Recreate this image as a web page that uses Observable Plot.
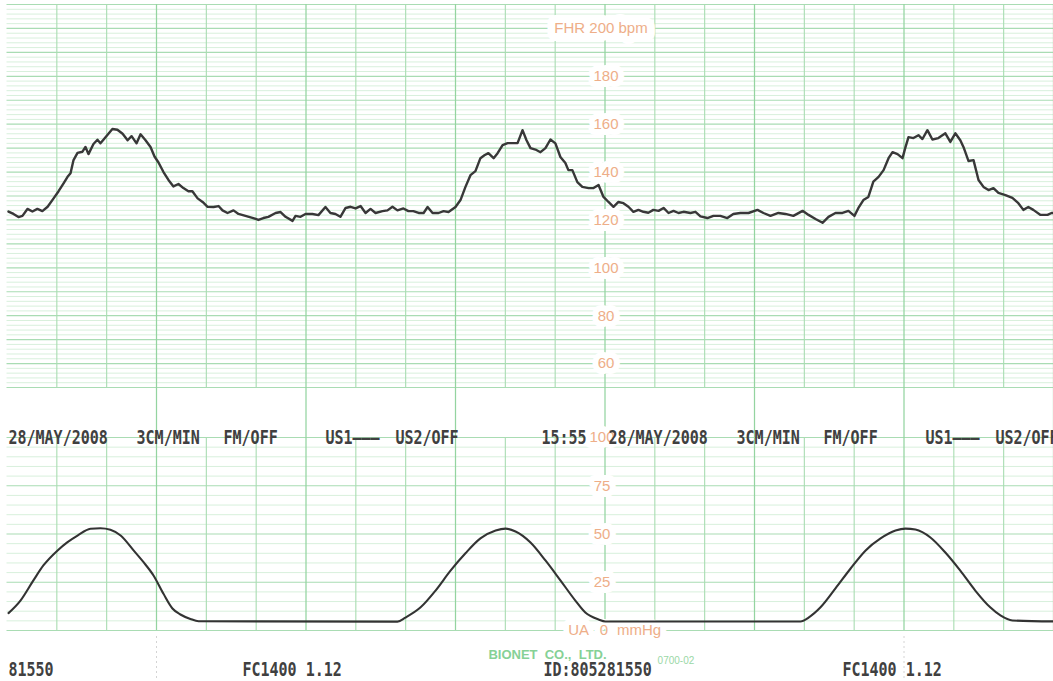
<!DOCTYPE html>
<html>
<head>
<meta charset="utf-8">
<script src="https://cdn.jsdelivr.net/npm/d3@7"></script>
<script src="https://cdn.jsdelivr.net/npm/@observablehq/plot@0.6"></script>
<style>
  html, body { margin: 0; padding: 0; background: #fff; }
  #chart { position: relative; width: 1053px; height: 681px; overflow: hidden; background: #fff; }
  #chart svg { position: absolute; left: 0; }
  #chart text { white-space: pre; }
</style>
</head>
<body>
<div id="chart"></div>
<script>
// ---- FHR trace (time in seconds, beats per minute) ----
const fhrTime = [
  0.6,2.6,4.6,6.2,8.2,10.2,12.2,14.2,16.3,18.7,
  20.7,22.7,24.3,25.5,26.7,28.3,30.3,31.5,32.7,34.7,
  36.3,37.5,38.7,40.7,42.3,44.3,46.4,48.4,50.0,52.0,
  53.6,55.6,57.6,59.2,60.8,62.8,64.8,66.8,68.8,70.8,
  72.8,74.4,76.5,78.5,80.5,82.9,84.9,86.5,88.5,90.9,
  92.9,95.7,98.5,100.9,102.9,104.9,107.8,109.8,111.8,114.6,
  115.8,117.8,119.8,122.6,125.0,127.8,129.8,131.8,133.8,135.9,
  137.9,139.9,141.9,143.9,145.9,147.9,150.7,152.7,154.7,156.7,
  159.1,161.1,163.1,165.2,167.2,168.8,170.8,173.2,175.2,177.2,
  180.0,182.0,184.0,186.0,188.0,190.0,191.6,193.2,195.3,196.9,
  198.9,200.9,202.9,204.9,206.9,208.5,210.1,212.1,214.1,216.1,
  218.1,220.1,222.1,224.1,225.3,226.9,228.9,230.9,233.4,235.4,
  237.4,239.4,241.4,243.4,245.4,247.4,249.4,251.4,253.4,255.4,
  257.4,259.4,261.5,263.5,265.5,267.5,269.5,271.5,274.3,276.3,
  278.3,281.1,283.5,286.3,289.1,291.5,294.3,297.6,301.2,303.6,
  306.4,309.6,312.4,315.6,319.3,321.7,324.5,327.3,329.7,332.5,
  335.3,337.7,340.1,341.7,343.7,345.7,347.7,349.8,351.8,353.8,
  355.4,357.4,359.4,360.6,361.8,363.8,365.8,367.4,369.4,371.4,
  373.8,376.6,378.6,380.6,382.6,383.9,385.9,387.9,389.9,391.9,
  393.9,395.9,397.9,400.7,403.5,405.9,407.9,409.9,411.9,414.8,
  417.6,419.2,420
];
const fhrBpm = [
  123.5,122.5,121.2,121.7,124.6,123.5,124.6,123.7,125.5,129,
  132,135.3,138,139.5,145,148,148.5,150.5,147.5,151.7,
  153.5,152,153.5,156,158,157.7,156,153.3,155,152,
  155.8,153.3,150.5,146.5,144,140,136.7,134,135,133.3,
  132,132,129,127.5,125.5,125.4,125.8,124,122.9,124,
  122.5,121.7,120.9,120,120.8,121.3,122.9,123.3,121.3,119.6,
  121.7,121.3,122.5,122.5,122,125.4,122.9,122.5,121.3,125,
  125.5,124.8,125.8,122.9,124.6,122.9,123.7,124,125.5,124,
  124.8,123.7,123.7,122.9,122.9,125.4,122.9,122.9,123.7,123.3,
  125.4,128.3,133.8,138.7,140.4,145.8,147,147.9,145.8,147.9,
  151.3,152.1,152.1,152.1,157.5,153.3,150,149.4,148.3,150,
  153.6,152,146.3,143.8,140.8,140.8,135.8,133.8,133.3,133.3,
  134.6,129.6,127.5,125.5,127.5,127,125.5,123.4,124.2,123.4,
  123,124.2,123.8,125,122.9,123.8,122.9,123.4,122.9,123.4,
  121.5,120.8,121.7,121.7,120.8,122.5,122.9,122.9,124.2,122.9,
  121.7,122.9,122.5,121.7,123.8,122.1,120.4,118.8,121.3,122.9,
  122.9,123.8,121.7,125,128.3,129.6,136,138,140.8,145.8,
  148.3,147.5,145.8,150.4,154.6,154.2,155.4,153.8,157.5,153.6,
  154.2,156.2,152.6,156.2,153.3,150.4,144.6,145,136.7,133.8,
  132.5,133.3,131.3,130.4,129.2,127,124.2,125.4,124.2,122.1,
  122.1,122.9,122.9
];

// ---- UA trace (time in seconds, mmHg) ----
const uaTime = [
  0.6,5.4,10.6,14.6,20.3,24.3,28.3,33.5,37.5,41.5,
  45.6,50.8,54.8,58.8,62.8,66.4,69.6,73.6,76.9,156.7,
  159.9,166.0,172.0,178.0,184.0,190.0,196.1,200.1,204.1,210.1,
  216.1,222.1,228.1,232.1,237.4,240.2,318.5,321.7,326.5,332.5,
  338.5,344.6,350.6,356.6,360.6,364.6,370.6,376.6,382.6,388.6,
  394.6,398.7,403.5,420
];
const uaMmHg = [
  9,15.5,26,33.7,41.5,45.8,49.2,52.7,53,52.2,
  49.2,41.5,35.4,28.5,19,11.4,8.3,6,4.8,4.6,
  6.7,12,20.7,31,40,47.7,51.8,52.8,51.3,45.6,
  36.3,26,15.5,9.3,5.7,4.7,4.7,6.7,12,21.8,
  32,41.5,47.7,51.8,52.8,52.3,48.2,40.4,31,20.7,
  12,7.8,5.2,4.7
];

// ---- scale labels / grid ticks ----
const fhrLabels = [60, 80, 100, 120, 140, 160, 180];
const fhrTopLabel = ["FHR 200 bpm"];
const uaLabels = [25, 50, 75, 100];
const fhrMinorTicks = d3.range(50, 211, 2).filter(v => v % 10 !== 0);
const fhrMajorTicks = d3.range(50, 211, 10);
const uaMinorTicks = d3.range(0, 101, 5).filter(v => v % 25 !== 0);
const uaMajorTicks = d3.range(0, 101, 25);
const cmTicks = d3.range(20, 421, 20).filter(t => t % 60 !== 0);   // 1 cm lines (3 cm/min)
const minuteTicks = d3.range(60, 421, 60);                          // 1 minute lines
const foldTicks = [60, 360];
const labelTime = 240;   // scale numbers printed at the 4-minute line

// ---- printed annotation strip ----
const stripLabels = ["28/MAY/2008", "3CM/MIN", "FM/OFF", "US1———", "US2/OFF",
                     "28/MAY/2008", "3CM/MIN", "FM/OFF", "US1———", "US2/OFF"];
const stripTime = [0.6, 52.0, 86.9, 127.8, 155.9, 241.4, 292.8, 327.7, 368.6, 396.7];
const clockLabel = ["15:55"];
const clockTime = [232.6];
const footLabels = ["81550", "FC1400 1.12", "ID:805281550", "FC1400 1.12"];
const footTime = [0.6, 94.5, 215.3, 335.3];
const makerLabel = ["BIONET  CO.,  LTD."];
const makerTime = [193.2];
const formLabel = ["0700-02"];
const formTime = [261.1];

const fhr = fhrTime.map((t, i) => ({t, bpm: fhrBpm[i]}));
const ua = uaTime.map((t, i) => ({t, mmHg: uaMmHg[i]}));

const minorColor = "#d8f0dc";
const majorColor = "#a9dcb3";
const cmColor = "#a9dcb2";
const minuteColor = "#94d4a0";
const labelStyle = {fill: "#eeae88", stroke: "white", strokeWidth: 12,
  fontSize: 15, fontFamily: "Liberation Sans, Arial, sans-serif"};
const printStyle = {fontFamily: "DejaVu Sans Mono", fontWeight: "bold", fontSize: 15, fill: "#404040"};

const common = {
  width: 1053, marginLeft: 6.5, marginRight: 0,
  x: {domain: [0, 420], axis: null}
};

const fhrChart = Plot.plot({
  ...common, height: 390, marginTop: 4, marginBottom: 3,
  y: {domain: [50, 210], axis: null},
  marks: [
    Plot.ruleY(fhrMinorTicks, {stroke: minorColor, strokeWidth: 1}),
    Plot.ruleY(fhrMajorTicks, {stroke: majorColor, strokeWidth: 1.2}),
    Plot.ruleX(cmTicks, {stroke: cmColor, strokeWidth: 1.1}),
    Plot.ruleX(minuteTicks, {stroke: minuteColor, strokeWidth: 1.25, insetBottom: -3}),
    Plot.text(fhrLabels, {x: () => labelTime, y: d => d, text: d => String(d), ...labelStyle, dx: 1}),
    Plot.text(fhrTopLabel, {x: () => labelTime, y: () => 200, text: d => d, ...labelStyle, strokeWidth: 16, dx: -4}),
    Plot.line(fhr, {x: "t", y: "bpm", stroke: "#383838", strokeWidth: 2.4, strokeLinejoin: "round"})
  ]
});

const uaChart = Plot.plot({
  ...common, height: 291, marginTop: 47, marginBottom: 51,
  y: {domain: [0, 100], axis: null},
  marks: [
    Plot.ruleY(uaMinorTicks, {stroke: minorColor, strokeWidth: 1}),
    Plot.ruleY(uaMajorTicks, {stroke: majorColor, strokeWidth: 1.2}),
    Plot.ruleX(cmTicks, {stroke: cmColor, strokeWidth: 1.1}),
    Plot.ruleX(minuteTicks, {stroke: minuteColor, strokeWidth: 1.25, insetTop: -47}),
    Plot.ruleX(foldTicks, {stroke: "#d4d4d4", strokeDasharray: "2,3", insetTop: 199, insetBottom: -51}),
    Plot.text(uaLabels, {x: () => labelTime, y: d => d, text: d => String(d), ...labelStyle, dx: -3}),
    Plot.text(["UA"], {x: () => labelTime, y: () => 0, text: d => d, textAnchor: "end", ...labelStyle, dx: -16}),
    Plot.text(["0"], {x: () => labelTime, y: () => 0, text: d => d, ...labelStyle, dx: -1}),
    Plot.text(["mmHg"], {x: () => labelTime, y: () => 0, text: d => d, textAnchor: "start", ...labelStyle, dx: 12}),
    Plot.line(ua, {x: "t", y: "mmHg", curve: "monotone-x", stroke: "#333", strokeWidth: 2.1}),
    Plot.text(stripLabels, {x: (d, i) => stripTime[i], text: d => d, frameAnchor: "top", lineAnchor: "bottom",
      textAnchor: "start", dy: 6, ...printStyle}),
    Plot.text(clockLabel, {x: (d, i) => clockTime[i], text: d => d, frameAnchor: "top", lineAnchor: "bottom",
      textAnchor: "end", dy: 6, ...printStyle}),
    Plot.text(footLabels, {x: (d, i) => footTime[i], text: d => d, frameAnchor: "bottom", lineAnchor: "bottom",
      textAnchor: "start", dy: 45, ...printStyle}),
    Plot.text(makerLabel, {x: (d, i) => makerTime[i], text: d => d, frameAnchor: "bottom", lineAnchor: "bottom",
      textAnchor: "start", dy: 28, fontFamily: "Liberation Sans, Arial, sans-serif", fontWeight: "bold",
      fontSize: 13, fill: "#86d196"}),
    Plot.text(formLabel, {x: (d, i) => formTime[i], text: d => d, frameAnchor: "bottom", lineAnchor: "bottom",
      textAnchor: "start", dy: 33, fontFamily: "Liberation Sans, Arial, sans-serif",
      fontSize: 10, fill: "#9ad8a6"})
  ]
});

// stretch the printer's condensed font vertically
function stretch(svg, k) {
  d3.select(svg).selectAll('g[font-family="DejaVu Sans Mono"] text').each(function() {
    const t = this.getAttribute("transform");
    if (t) this.setAttribute("transform", t + ` scale(1,${k})`);
    else {
      const x = +this.getAttribute("x") || 0, y = +this.getAttribute("y") || 0;
      this.removeAttribute("x"); this.removeAttribute("y");
      this.setAttribute("transform", `translate(${x},${y}) scale(1,${k})`);
    }
  });
}
stretch(uaChart, 1.25);

fhrChart.style.top = "0px";
uaChart.style.top = "390px";
const chart = document.getElementById("chart");
chart.appendChild(fhrChart);
chart.appendChild(uaChart);
</script>
</body>
</html>
